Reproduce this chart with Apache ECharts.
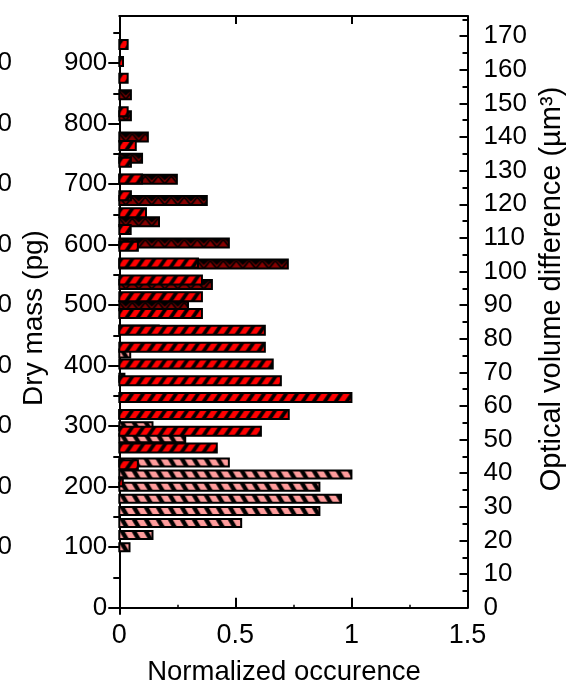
<!DOCTYPE html>
<html>
<head>
<meta charset="utf-8">
<script src="https://cdn.jsdelivr.net/npm/echarts@6/dist/echarts.min.js"></script>
<style>
html,body{margin:0;padding:0;background:#fff;}
#chart{width:570px;height:687px;}
</style>
</head>
<body>
<div id="chart"></div>
<script>
// ---- data ----
// pink series: bin centre (dry mass, pg) and normalized occurrence
const pinkMass = [100, 120, 140, 160, 180, 200, 220, 240, 280, 300, 320, 380, 420, 460];
const pinkOcc  = [0.044, 0.143, 0.525, 0.862, 0.955, 0.862, 1.0, 0.472, 0.284, 0.143, 0.09, 0.022, 0.047, 0.17];
// red series: bin centre (optical volume difference, µm³) and normalized occurrence
const redVolume = [37.5, 42.5, 47.5, 52.5, 57.5, 62.5, 67.5, 72.5, 77.5, 82.5, 87.5, 92.5, 97.5, 102.5, 107.5, 112.5, 117.5, 122.5, 127.5, 132.5, 137.5, 147.5, 157.5, 162.5, 167.5];
const redOcc    = [0.015, 0.08, 0.42, 0.61, 0.73, 1.0, 0.696, 0.661, 0.627, 0.627, 0.356, 0.356, 0.356, 0.339, 0.08, 0.049, 0.115, 0.05, 0.098, 0.05, 0.071, 0.036, 0.036, 0.016, 0.036];
// dark red series: bin centre (dry mass, pg) and normalized occurrence
const darkMass = [499, 534, 568, 603, 638, 673, 708, 743, 778, 813, 848];
const darkOcc  = [0.296, 0.399, 0.726, 0.472, 0.171, 0.377, 0.248, 0.098, 0.123, 0.05, 0.05];

// tick values / labels
const massTicks = [0, 100, 200, 300, 400, 500, 600, 700, 800, 900];
const massMinorTicks = [50, 150, 250, 350, 450, 550, 650, 750, 850, 950];
const sideMassLabels = [100, 200, 300, 400, 500, 600, 700, 800, 900];
const volumeTicks = [0, 10, 20, 30, 40, 50, 60, 70, 80, 90, 100, 110, 120, 130, 140, 150, 160, 170];
const volumeMinorTicks = [5, 15, 25, 35, 45, 55, 65, 75, 85, 95, 105, 115, 125, 135, 145, 155, 165, 175];
const occTicks = [0, 0.5, 1, 1.5];
const occMinorTicks = [0.25, 0.75, 1.25];

const massMax = 978;
const volumeMax = 176;

const FONT = '"Liberation Sans", Arial, Helvetica, sans-serif';

// ---- hatch tiles ----
function stripeTile(bg, w, h, band, backslash) {
  const c = document.createElement('canvas');
  c.width = w; c.height = h;
  const g = c.getContext('2d');
  g.fillStyle = bg; g.fillRect(0, 0, w, h);
  g.fillStyle = '#000';
  for (let k = -2; k <= 2; k++) {
    const o = k * w;
    g.beginPath();
    if (backslash) {
      g.moveTo(o, 0); g.lineTo(o + band, 0); g.lineTo(o + band + w, h); g.lineTo(o + w, h);
    } else {
      g.moveTo(o + w, 0); g.lineTo(o + w + band, 0); g.lineTo(o + band, h); g.lineTo(o, h);
    }
    g.closePath(); g.fill();
  }
  return c;
}
function zigzagTile() {
  const w = 13, h = 10;
  const c = document.createElement('canvas');
  c.width = w; c.height = h;
  const g = c.getContext('2d');
  g.fillStyle = '#870000'; g.fillRect(0, 0, w, h);
  g.fillStyle = '#000';
  g.beginPath(); g.moveTo(0.5, 0); g.lineTo(w - 0.5, 0); g.lineTo(w / 2, 5.5); g.closePath(); g.fill();
  g.strokeStyle = '#000'; g.lineWidth = 1.8;
  g.beginPath(); g.moveTo(0, 1); g.lineTo(w / 2, 9); g.lineTo(w, 1); g.stroke();
  return c;
}
const pinkTile = stripeTile('#ff9c9c', 12, 20, 5, true);
const redTile = stripeTile('#ff0000', 11, 16, 4.5, false);
const darkTile = zigzagTile();

function barRenderer(tile, h) {
  return function (params, api) {
    const v = api.value(0), c = api.value(1);
    const p0 = api.coord([0, c]);
    const p1 = api.coord([v, c]);
    const top = p0[1] - h / 2;
    return {
      type: 'rect',
      shape: { x: p0[0], y: top, width: p1[0] - p0[0], height: h },
      style: {
        fill: { image: tile, repeat: 'repeat', x: p0[0], y: top },
        stroke: '#000', lineWidth: 2
      }
    };
  };
}

const axisLineStyle = { color: '#000', width: 2 };
const tickStyle = { color: '#000', width: 2 };

const chart = echarts.init(document.getElementById('chart'), null, { renderer: 'canvas' });
chart.setOption({
  animation: false,
  backgroundColor: '#fff',
  grid: { left: 119.3, right: 102.5, top: 16, bottom: 79.3, containLabel: false, outerBoundsMode: 'none' },
  xAxis: [
    { // bottom main
      type: 'value', min: 0, max: 1.5, interval: 0.5, position: 'bottom', gridIndex: 0,
      axisLine: { show: true, onZero: false, lineStyle: axisLineStyle },
      axisTick: { show: true, inside: true, length: 10, lineStyle: tickStyle, customValues: occTicks },
      axisLabel: { show: true, customValues: occTicks, margin: 14, color: '#000', fontSize: 27, fontFamily: FONT,
                   formatter: v => String(v) },
      splitLine: { show: false }
    },
    { // bottom minor ticks
      type: 'value', min: 0, max: 1.5, interval: 0.25, position: 'bottom', gridIndex: 0,
      axisLine: { show: false, onZero: false },
      axisTick: { show: true, inside: true, length: 3, lineStyle: { color: '#000', width: 1.5 }, customValues: occMinorTicks },
      axisLabel: { show: false }, splitLine: { show: false }
    },
    { // outward tick at origin
      type: 'value', min: 0, max: 1.5, interval: 0.5, position: 'bottom', gridIndex: 0,
      axisLine: { show: false, onZero: false },
      axisTick: { show: true, inside: false, length: 7, lineStyle: tickStyle, customValues: [0] },
      axisLabel: { show: false }, splitLine: { show: false }
    },
    { // top frame
      type: 'value', min: 0, max: 1.5, interval: 0.5, position: 'top', gridIndex: 0,
      axisLine: { show: true, onZero: false, lineStyle: axisLineStyle },
      axisTick: { show: true, inside: true, length: 8, lineStyle: tickStyle, customValues: [0.5, 1] },
      axisLabel: { show: false }, splitLine: { show: false }
    }
  ],
  yAxis: [
    { // left: dry mass
      type: 'value', min: 0, max: massMax, interval: 100, position: 'left', gridIndex: 0,
      axisLine: { show: true, onZero: false, lineStyle: axisLineStyle },
      axisTick: { show: true, inside: false, length: 11, lineStyle: tickStyle, customValues: massTicks },
      axisLabel: { show: true, customValues: massTicks, margin: 12, color: '#000', fontSize: 26, fontFamily: FONT },
      splitLine: { show: false }
    },
    { // right: optical volume difference
      type: 'value', min: 0, max: volumeMax, interval: 10, position: 'right', gridIndex: 0,
      axisLine: { show: true, onZero: false, lineStyle: axisLineStyle },
      axisTick: { show: true, inside: true, length: 8, lineStyle: tickStyle, customValues: volumeTicks },
      axisLabel: { show: true, customValues: volumeTicks, margin: 16, color: '#000', fontSize: 26, fontFamily: FONT },
      splitLine: { show: false }
    },
    { // left minor ticks
      type: 'value', min: 0, max: massMax, interval: 50, position: 'left', gridIndex: 0,
      axisLine: { show: false, onZero: false },
      axisTick: { show: true, inside: false, length: 6, lineStyle: tickStyle, customValues: massMinorTicks },
      axisLabel: { show: false }, splitLine: { show: false }
    },
    { // right minor ticks
      type: 'value', min: 0, max: volumeMax, interval: 5, position: 'right', gridIndex: 0,
      axisLine: { show: false, onZero: false },
      axisTick: { show: true, inside: true, length: 5, lineStyle: tickStyle, customValues: volumeMinorTicks },
      axisLabel: { show: false }, splitLine: { show: false }
    },
    { // neighbouring panel's labels, cut by the left edge
      type: 'value', min: 0, max: massMax, interval: 100, position: 'left', offset: 95.3, gridIndex: 0,
      axisLine: { show: false, onZero: false }, axisTick: { show: false },
      axisLabel: { show: true, customValues: sideMassLabels, margin: 12, color: '#000', fontSize: 26, fontFamily: FONT },
      splitLine: { show: false }
    }
  ],
  graphic: [
    { type: 'text', x: 34, y: 318, rotation: Math.PI / 2, silent: true,
      style: { text: 'Dry mass (pg)', fill: '#000', font: '28px ' + FONT, align: 'center', verticalAlign: 'middle' } },
    { type: 'text', x: 552, y: 289, rotation: Math.PI / 2, silent: true,
      style: { text: 'Optical volume difference (µm³)', fill: '#000', font: '29px ' + FONT, align: 'center', verticalAlign: 'middle' } },
    { type: 'text', x: 284, y: 672, silent: true,
      style: { text: 'Normalized occurence', fill: '#000', font: '27.5px ' + FONT, align: 'center', verticalAlign: 'middle' } }
  ],
  series: [
    {
      name: 'pink', type: 'custom', xAxisIndex: 0, yAxisIndex: 0,
      renderItem: barRenderer(pinkTile, 8),
      encode: { x: 0, y: 1 },
      data: pinkMass.map((m, i) => [pinkOcc[i], m])
    },
    {
      name: 'dark', type: 'custom', xAxisIndex: 0, yAxisIndex: 0,
      renderItem: barRenderer(darkTile, 9),
      encode: { x: 0, y: 1 },
      data: darkMass.map((m, i) => [darkOcc[i], m])
    },
    {
      name: 'red', type: 'custom', xAxisIndex: 0, yAxisIndex: 1,
      renderItem: barRenderer(redTile, 9),
      encode: { x: 0, y: 1 },
      data: redVolume.map((v, i) => [redOcc[i], v])
    }
  ]
});
</script>
</body>
</html>
